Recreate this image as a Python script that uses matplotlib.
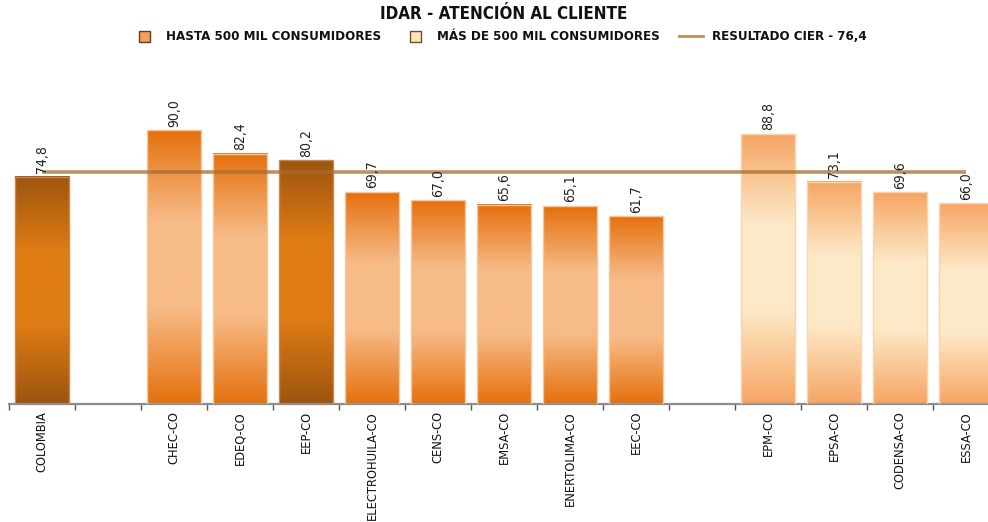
import numpy as np
import matplotlib
matplotlib.use("Agg")
import matplotlib.pyplot as plt
from matplotlib.colors import LinearSegmentedColormap
from matplotlib.patches import Rectangle
from matplotlib.lines import Line2D

plt.rcParams["font.family"] = ["DejaVu Sans"]
plt.rcParams["font.stretch"] = "condensed"

TITLE = "IDAR - ATENCIÓN AL CLIENTE"
categories = ["COLOMBIA", "", "CHEC-CO", "EDEQ-CO", "EEP-CO", "ELECTROHUILA-CO",
              "CENS-CO", "EMSA-CO", "ENERTOLIMA-CO", "EEC-CO", "",
              "EPM-CO", "EPSA-CO", "CODENSA-CO", "ESSA-CO"]
values = [74.8, np.nan, 90.0, 82.4, 80.2, 69.7, 67.0, 65.6, 65.1, 61.7, np.nan,
          88.8, 73.1, 69.6, 66.0]
# grupo de cada barra: ref = destacada, hasta = hasta 500 mil, mas = mas de 500 mil
groups = ["ref", "", "hasta", "hasta", "ref", "hasta", "hasta", "hasta", "hasta",
          "hasta", "", "mas", "mas", "mas", "mas"]
cier_value = 76.4
legend_labels = ["HASTA 500 MIL CONSUMIDORES", "MÁS DE 500 MIL CONSUMIDORES",
                 "RESULTADO CIER - 76,4"]

styles = {
    "ref": (["#9c5510", "#e07c14", "#e07c14", "#9c5510"], "#c88a50"),
    "hasta": (["#e5700e", "#f7bb87", "#f7bb87", "#e5700e"], "#f6c79c"),
    "mas": (["#f6a564", "#fde9c7", "#fde9c7", "#f6a564"], "#fbd3ad"),
}
stops = [0.0, 0.33, 0.65, 1.0]

fig = plt.figure(figsize=(9.88, 5.22), dpi=100)
W, H = 988, 522
ax = fig.add_axes([9 / W, (H - 404) / H, 990 / W, 304 / H])

n = len(categories)
bw = 0.82
grad = np.linspace(0, 1, 256).reshape(-1, 1)
for i, (v, g) in enumerate(zip(values, groups)):
    if np.isnan(v):
        continue
    cols, edge = styles[g]
    cmap = LinearSegmentedColormap.from_list(g, list(zip(stops, cols)))
    ax.imshow(grad, cmap=cmap, aspect="auto", origin="upper",
              extent=[i - bw / 2, i + bw / 2, 0, v], zorder=2, interpolation="bilinear")
    ax.add_patch(Rectangle((i - bw / 2, 0), bw, v, fill=False, edgecolor=edge,
                           linewidth=1.0, zorder=3))
    ax.text(i, v + 1.2, f"{v:.1f}".replace(".", ","), rotation=90, ha="center",
            va="bottom", fontsize=10, color="#222222", zorder=5)

x = np.arange(n)
ax.plot(x, [cier_value] * n, color="#a86c30", alpha=0.75, linewidth=2.6, zorder=4,
        solid_capstyle="butt")

ax.set_xlim(-0.5, n - 0.5)
ax.set_ylim(0, 100)
ax.set_yticks([])
for s in ["top", "right", "left"]:
    ax.spines[s].set_visible(False)
ax.spines["bottom"].set_color("#8c8c8c")
ax.spines["bottom"].set_linewidth(1.6)

ax.set_xticks(np.arange(n + 1) - 0.5)
ax.set_xticklabels([])
ax.tick_params(axis="x", which="major", length=4, width=1, color="#555555", direction="out")
ax.set_xticks(x, minor=True)
ax.set_xticklabels(categories, minor=True, rotation=90, fontsize=9.2, color="#111111",
                   va="top", ha="center")
ax.tick_params(axis="x", which="minor", length=0, pad=5)

# titulo y leyenda
fig.text(504 / W, 1 - 14 / H, TITLE, ha="center", va="center", fontsize=12.2,
         fontweight="bold", color="#111111")
ly = 1 - 36 / H
sq = 11
fig.patches.append(Rectangle((139 / W, ly - sq / 2 / H), sq / W, sq / H, transform=fig.transFigure,
                             facecolor="#f5a060", edgecolor="#6a3a10", linewidth=1))
fig.text(166 / W, ly, legend_labels[0], ha="left", va="center", fontsize=9.5,
         fontweight="bold", color="#111111")
fig.patches.append(Rectangle((410 / W, ly - sq / 2 / H), sq / W, sq / H, transform=fig.transFigure,
                             facecolor="#fde3b8", edgecolor="#6a5030", linewidth=1))
fig.text(437 / W, ly, legend_labels[1], ha="left", va="center", fontsize=9.5,
         fontweight="bold", color="#111111")
fig.lines.append(Line2D([679 / W, 703 / W], [ly, ly], transform=fig.transFigure,
                        color="#c0905c", linewidth=2))
fig.text(712 / W, ly, legend_labels[2], ha="left", va="center", fontsize=9.5,
         fontweight="bold", color="#111111")

fig.savefig("out.png", dpi=100)
